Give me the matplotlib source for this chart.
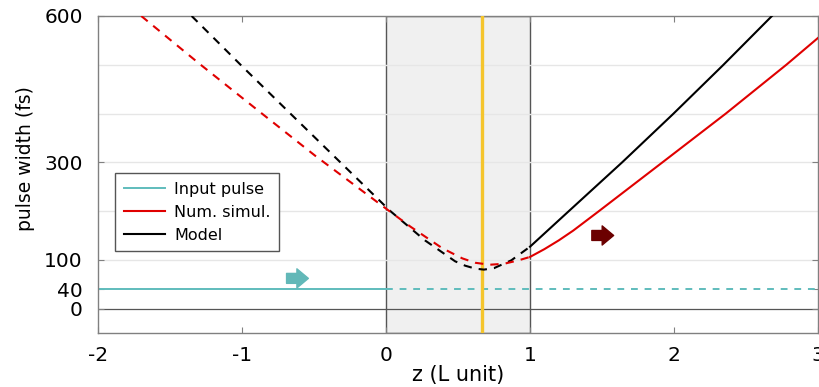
import matplotlib
matplotlib.use("Agg")
import matplotlib.pyplot as plt

plt.rcParams["axes.unicode_minus"] = False
plt.rcParams["font.family"] = "DejaVu Sans"

# numerical simulation (red), z in units of L, width in fs
z_sim = [-1.70, -1.30, -0.875, -0.49, 0.0, 0.17, 0.39, 0.53, 0.62, 0.72, 0.82, 0.92, 1.0,
         1.1, 1.2, 1.3, 1.47, 1.92, 2.36, 2.78, 3.0]
w_sim = [600, 503, 403, 313, 205, 168, 124, 103, 94, 90, 92, 99, 106,
         122, 140, 160, 198, 300, 400, 500, 555]

# model (black)
z_mod = [-1.35, -1.0, -0.63, -0.30, 0.03, 0.27, 0.48, 0.55, 0.62, 0.68, 0.75, 0.87, 1.0,
         1.255, 1.64, 1.99, 2.34, 2.68]
w_mod = [600, 497, 390, 295, 200, 140, 97, 88, 82, 80, 83, 99, 127,
         196, 300, 398, 499, 600]

# input pulse (teal)
z_in = [-2, 0, 3]
w_in = [40, 40, 40]

z_split = 1.0        # dashed before, solid after
z_focus = 0.667      # yellow marker
medium = (0, 1)      # shaded slab

yticks = [0, 40, 100, 300, 600]
grid_levels = [100, 200, 300, 400, 500]
xticks = [-2, -1, 0, 1, 2, 3]

TEAL = "#5fbcbc"
RED = "#e00000"
DARKRED = "#6b0000"
YELLOW = "#f5c52c"


def split(z, w, z0):
    pre = [(a, b) for a, b in zip(z, w) if a <= z0]
    post = [(a, b) for a, b in zip(z, w) if a >= z0]
    return list(zip(*pre)), list(zip(*post))


fig = plt.figure(figsize=(8.19, 3.87), dpi=100)
ax = fig.add_axes([0.1197, 0.1395, 0.8791, 0.8192])

ax.axvspan(*medium, facecolor="#f0f0f0", edgecolor="#555555", lw=1.0, zorder=0)
for g in grid_levels:
    ax.axhline(g, color="#e6e6e6", lw=1.0, zorder=0.5)
ax.axhline(0, color="#555555", lw=0.9, zorder=1)

# input pulse
ax.plot(z_in[:2], w_in[:2], color=TEAL, lw=1.4, zorder=2, label="Input pulse")
ax.plot(z_in[1:], w_in[1:], color=TEAL, lw=1.4, zorder=2, linestyle=(0, (3.5, 3.5)))

ax.axvline(z_focus, color=YELLOW, lw=2.4, zorder=3)

(mz1, mw1), (mz2, mw2) = split(z_mod, w_mod, z_split)
(sz1, sw1), (sz2, sw2) = split(z_sim, w_sim, z_split)

ax.plot(mz1, mw1, color="black", lw=1.5, linestyle=(0, (4, 3.4)), zorder=4)
ax.plot(sz1, sw1, color=RED, lw=1.5, linestyle=(0, (4, 3.4)), zorder=4)
ax.plot(mz2, mw2, color="black", lw=1.5, zorder=4)
ax.plot(sz2, sw2, color=RED, lw=1.5, zorder=4)

# direction arrows
arrow = "simple,head_length=0.75,head_width=1.25,tail_width=0.65"
ax.annotate("", xy=(-0.52, 62), xytext=(-0.71, 62),
            arrowprops=dict(arrowstyle=arrow, fc="#62b8b8", ec="#62b8b8", mutation_scale=11), zorder=5)
ax.annotate("", xy=(1.60, 150), xytext=(1.41, 150),
            arrowprops=dict(arrowstyle=arrow, fc=DARKRED, ec=DARKRED, mutation_scale=11), zorder=5)

# legend proxies
ax.plot([], [], color=RED, lw=1.5, label="Num. simul.")
ax.plot([], [], color="black", lw=1.5, label="Model")
leg = ax.legend(loc="upper left", bbox_to_anchor=(0.0236, 0.505), borderaxespad=0,
                fancybox=False, framealpha=1, edgecolor="#555555", fontsize=11.5,
                handlelength=2.6, handletextpad=0.55, labelspacing=0.5, borderpad=0.55)
leg.get_frame().set_linewidth(1.0)

ax.set_xlim(-2, 3)
ax.set_ylim(-50, 600)
ax.set_xticks(xticks)
ax.set_yticks(yticks)
ax.tick_params(direction="in", length=4, width=0.8, color="#808080",
               top=True, right=True, labelsize=14.5)
ax.tick_params(axis="y", pad=11)
ax.tick_params(axis="x", pad=9)
for s in ax.spines.values():
    s.set_color("#808080")
    s.set_linewidth(1.0)

ax.set_xlabel("z (L unit)", fontsize=15, labelpad=0)
ax.set_ylabel("pulse width (fs)", fontsize=13.5)
ax.yaxis.set_label_coords(-0.088, 0.55)

fig.savefig("out.png", dpi=100)
